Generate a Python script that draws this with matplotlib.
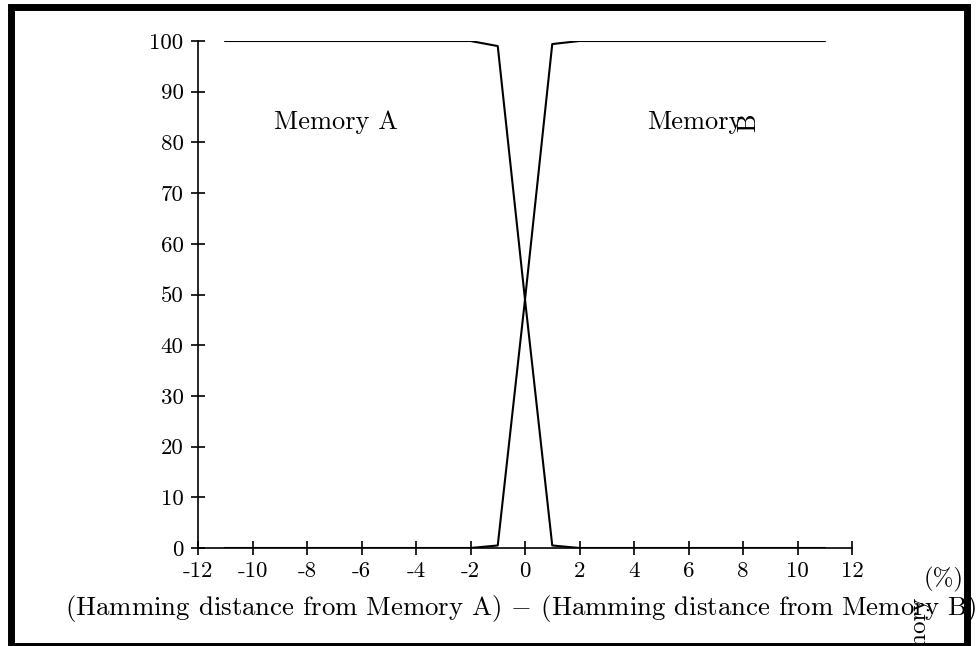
import matplotlib
matplotlib.use("Agg")
import matplotlib.pyplot as plt
from matplotlib.patches import Rectangle

plt.rcParams["font.family"] = "cmr10"
plt.rcParams["mathtext.fontset"] = "cm"
plt.rcParams["axes.unicode_minus"] = False
plt.rcParams["axes.formatter.use_mathtext"] = True

# recall (%) vs. difference in Hamming distance between the two memories
diff = [-11, -10, -9, -8, -7, -6, -5, -4, -3, -2, -1, 0, 1, 2, 3, 4, 5, 6, 7, 8, 9, 10, 11]
recall_a = [100, 100, 100, 100, 100, 100, 100, 100, 100, 100, 99.0, 49.0, 0.5,
            0, 0, 0, 0, 0, 0, 0, 0, 0, 0]
recall_b = [0, 0, 0, 0, 0, 0, 0, 0, 0, 0, 0.5, 49.0, 99.4,
            100, 100, 100, 100, 100, 100, 100, 100, 100, 100]

xticks = list(range(-12, 13, 2))
yticks = list(range(0, 101, 10))

W, H = 977, 646
fig = plt.figure(figsize=(W / 100, H / 100), dpi=100)
fig.patch.set_facecolor("white")


def px(x, y):
    return x / W, 1 - y / H


ax = fig.add_axes([198 / W, 1 - 548 / H, (852 - 198) / W, (548 - 41) / H])
ax.plot(diff, recall_a, color="black", lw=1.5)
ax.plot(diff, recall_b, color="black", lw=1.5)
ax.set_xlim(-12, 12)
ax.set_ylim(0, 100)
for side in ("top", "right"):
    ax.spines[side].set_visible(False)
for side in ("left", "bottom"):
    ax.spines[side].set_linewidth(1.2)
ax.set_xticks(xticks)
ax.set_xticklabels([str(t) for t in xticks])
ax.set_yticks(yticks)
ax.set_yticklabels([str(t) for t in yticks])
ax.tick_params(direction="inout", length=10, width=1.2, labelsize=16.5)
ax.tick_params(axis="x", pad=4.5)
ax.tick_params(axis="y", pad=5.5)

ax.text(-9.2, 84, "Memory A", fontsize=19, va="center", ha="left")
ax.text(4.48, 84, "Memory", fontsize=19, va="center", ha="left")
fig.text(*px(748, 123), "B", fontsize=19, rotation=90, ha="center", va="center")

fig.text(*px(520, 609),
         r"(Hamming distance from Memory A) $-$ (Hamming distance from Memory B)",
         fontsize=19.3, ha="center", va="center")
fig.text(*px(944, 579), "(%)", fontsize=18, ha="center", va="center")
fig.text(*px(919, 597), "Memory", fontsize=18, rotation=90, ha="center", va="top")

fig.patches.append(Rectangle(px(11, 645.5), (966.5 - 11) / W, (645.5 - 6.5) / H,
                             transform=fig.transFigure, fill=False,
                             edgecolor="black", lw=5, zorder=10))

fig.savefig("out.png", dpi=100, facecolor="white")
